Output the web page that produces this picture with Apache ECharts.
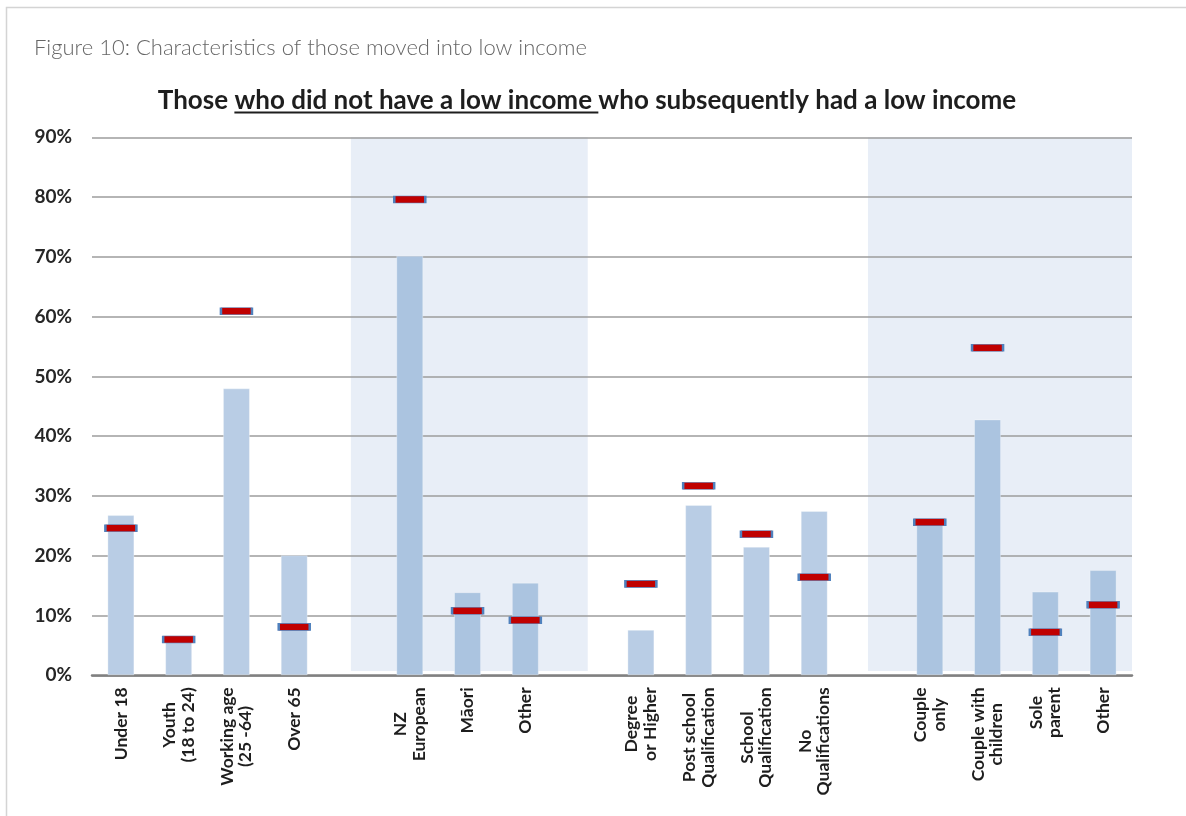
<!DOCTYPE html>
<html>
<head>
<meta charset="utf-8">
<style>
  html, body { margin: 0; padding: 0; background: #fff; }
  #chart { width: 1186px; height: 816px; }
</style>
<script src="https://cdn.jsdelivr.net/npm/echarts@6/dist/echarts.min.js"></script>
</head>
<body>
<div id="chart"></div>
<script>
// Category slots; empty names are spacer slots between the four groups
const categories = [
  'Under 18', 'Youth\n(18 to 24)', 'Working age\n(25 -64)', 'Over 65', '',
  'NZ\nEuropean', 'Māori', 'Other', '',
  'Degree\nor Higher', 'Post school\nQualification', 'School\nQualification', 'No\nQualifications', '',
  'Couple\nonly', 'Couple with\nchildren', 'Sole\nparent', 'Other'
];

// Share of the population in each characteristic (%), blue bars
const populationShare = [26.8, 5.8, 48.0, 20.1, null, 70.2, 13.9, 15.5, null,
  7.6, 28.5, 21.5, 27.5, null, 25.3, 42.8, 14.0, 17.6];

// Share of those who moved into low income (%), red markers
const movedIntoLowIncome = [24.6, 6.0, 60.9, 8.1, null, 79.6, 10.8, 9.2, null,
  15.3, 31.7, 23.6, 16.4, null, 25.6, 54.8, 7.2, 11.8];

// Y axis ticks (%)
const yTicks = { min: 0, max: 90, step: 10 };

// Shaded group bands, in category-slot units (start, end)
const bands = [[4.48, 8.58], [13.43, 18]];

const FONT = 'Lato, "Open Sans", sans-serif';
const titleParts = ['Those ', 'who did not have a low income ', 'who subsequently had a low income'];
const titleFont = 'bold 26px Lato';

function measure(text, font) {
  const ctx = document.createElement('canvas').getContext('2d');
  ctx.font = font;
  return ctx.measureText(text).width;
}

const w0 = measure(titleParts[0], titleFont);
const w1 = measure(titleParts[1], titleFont);
const wAll = measure(titleParts.join(''), titleFont);
const titleX = 587 - wAll / 2;
const titleY = 101;

const inBand = i => bands.some(([a, b]) => i > a && i < b);

const chart = echarts.init(document.getElementById('chart'), null, { renderer: 'canvas' });

chart.setOption({
  backgroundColor: '#ffffff',
  animation: false,
  grid: { left: 92, right: 54, top: 137.3, bottom: 140.7, containLabel: false },
  graphic: [
    {
      type: 'polyline', silent: true,
      shape: { points: [[1200, 7.5], [6.5, 7.5], [6.5, 830]] },
      style: { stroke: '#d4d4d4', lineWidth: 1.5, fill: null }
    },
    {
      type: 'text', left: 34, top: 37,
      style: { text: 'Figure 10: Characteristics of those moved into low income',
        font: '300 22px Lato', fill: '#666666' }
    },
    {
      type: 'text', x: titleX, y: titleY,
      style: { text: titleParts.join(''), font: titleFont, fill: '#1e1e1e', verticalAlign: 'middle' }
    },
    {
      type: 'rect', silent: true,
      shape: { x: titleX + w0, y: titleY + 10.5, width: w1, height: 2 },
      style: { fill: '#1e1e1e' }
    }
  ],
  xAxis: [
    {
      type: 'category',
      data: categories,
      axisTick: { show: false },
      axisLine: { lineStyle: { color: '#808080', width: 2.5 } },
      axisLabel: {
        interval: 0,
        rotate: 90,
        margin: 12,
        formatter: v => v ? v.split('\n').map(s => '{c|' + s + '}').join('\n') : '',
        rich: {
          c: { align: 'center', fontFamily: FONT, fontWeight: 'bold', fontSize: 17.5,
            lineHeight: 18.5, color: '#1e1e1e' }
        }
      }
    },
    { type: 'value', min: 0, max: categories.length, show: false }
  ],
  yAxis: {
    type: 'value',
    min: yTicks.min, max: yTicks.max, interval: yTicks.step,
    axisLine: { show: false },
    axisTick: { show: false },
    axisLabel: { formatter: '{value}%', margin: 20, fontFamily: FONT, fontWeight: 'bold',
      fontSize: 19, color: '#262626' },
    splitLine: { lineStyle: { color: '#9d9d9d', width: 1.5 } }
  },
  series: [
    {
      type: 'custom',
      xAxisIndex: 1,
      z: -1,
      silent: true,
      data: bands,
      renderItem: (params, api) => {
        const p0 = api.coord([api.value(0), yTicks.max]);
        const p1 = api.coord([api.value(1), 0.7]);
        return { type: 'rect', shape: { x: p0[0], y: p0[1], width: p1[0] - p0[0], height: p1[1] - p0[1] },
          style: { fill: '#e8eef7' } };
      }
    },
    {
      type: 'bar',
      barWidth: 27,
      data: populationShare.map((v, i) => ({
        value: v,
        itemStyle: { color: inBand(i) ? '#abc4e0' : '#b9cde5' }
      })),
      itemStyle: { borderColor: 'rgba(255,255,255,0.3)', borderWidth: 1 }
    },
    {
      type: 'scatter',
      symbol: 'rect',
      symbolSize: [31, 7],
      z: 5,
      data: movedIntoLowIncome,
      itemStyle: { color: '#c00000', borderColor: '#4f81bd', borderWidth: 1.2, opacity: 1 }
    }
  ]
});
</script>
</body>
</html>
